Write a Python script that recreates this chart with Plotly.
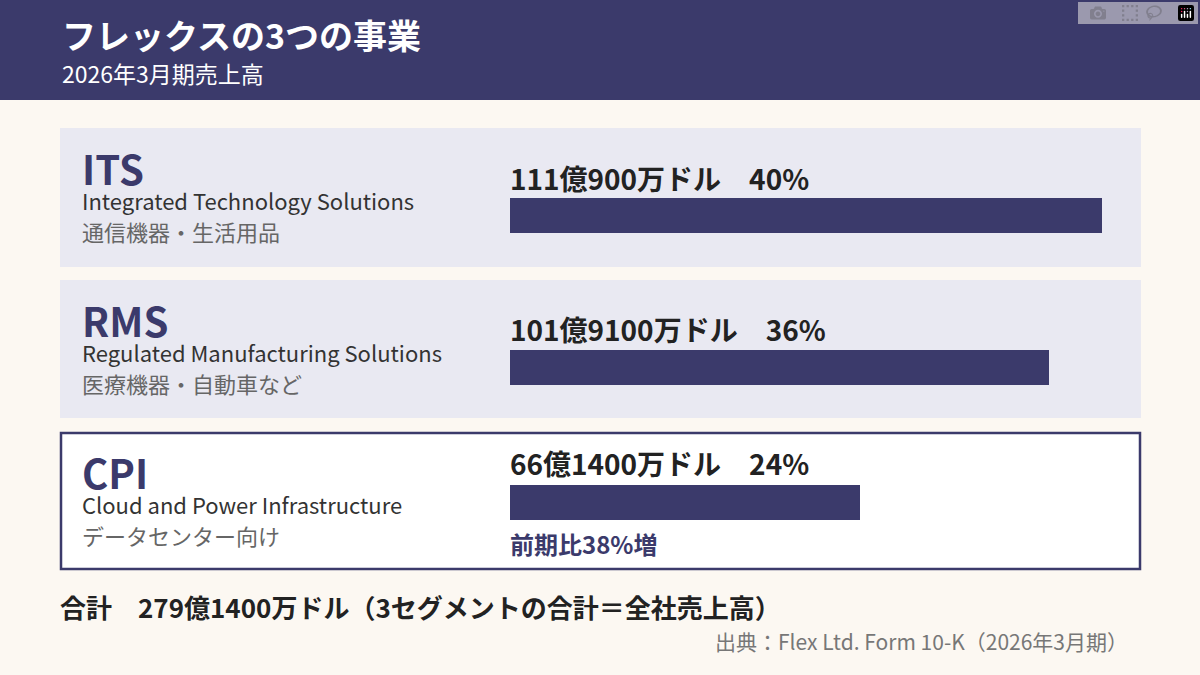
import plotly.graph_objects as go

codes = ["ITS", "RMS", "CPI"]
names_en = ["Integrated Technology Solutions", "Regulated Manufacturing Solutions", "Cloud and Power Infrastructure"]
names_ja = ["通信機器・生活用品", "医療機器・自動車など", "データセンター向け"]
revenue = [111.9, 101.91, 66.14]  # 億ドル
value_labels = ["111億900万ドル　40%", "101億9100万ドル　36%", "66億1400万ドル　24%"]
growth_note = "前期比38%増"
total_note = "合計　279億1400万ドル（3セグメントの合計＝全社売上高）"
source_note = "出典：Flex Ltd. Form 10-K（2026年3月期）"
title = "フレックスの3つの事業"
subtitle = "2026年3月期売上高"

W, H = 1200, 675
NAVY = "#3b3a6b"
FONT = "Noto Sans CJK JP"
bar_y = [215.5, 367.5, 502]
panel_y = [(128, 267), (280, 418), (432, 570)]
label_y = [178, 329, 463]

fig = go.Figure()
R = 120
x0 = 510 / W
x1 = (510 + R * 5.29) / W
fig.add_trace(go.Bar(x=revenue, y=bar_y, orientation="h", width=35,
                     marker=dict(color=NAVY, line=dict(width=0)), hoverinfo="skip"))

shapes = [dict(type="rect", xref="paper", yref="paper", x0=0, x1=1, y0=1 - 100 / H, y1=1,
               fillcolor=NAVY, line=dict(width=0), layer="below")]
for i, (a, b) in enumerate(panel_y):
    if i < 2:
        shapes.append(dict(type="rect", xref="paper", yref="paper", x0=60 / W, x1=1141 / W,
                           y0=1 - b / H, y1=1 - a / H, fillcolor="#e9e9f2", line=dict(width=0), layer="below"))
    else:
        shapes.append(dict(type="rect", xref="paper", yref="paper", x0=61 / W, x1=1140 / W,
                           y0=1 - (b - 1) / H, y1=1 - (a + 1) / H, fillcolor="white",
                           line=dict(width=2.5, color=NAVY), layer="below"))

ann = []
def t(x, y, s, size, color, bold=False, anchor="left"):
    ann.append(dict(xref="paper", yref="paper", x=x / W, y=1 - y / H, text=f"<b>{s}</b>" if bold else s,
                    showarrow=False, xanchor=anchor, yanchor="middle",
                    font=dict(family=FONT, size=size, color=color)))

t(60, 34, title, 34, "white", True)
t(60, 73, subtitle, 23, "white")
for i in range(3):
    top = panel_y[i][0]
    t(80, top + 40, codes[i], 40, NAVY, True)
    t(80, top + 72, names_en[i], 22, "#333333")
    t(80, top + 103, names_ja[i], 22, "#666666")
    t(508, label_y[i], value_labels[i], 28, "#222222", True)
t(508, 543, growth_note, 24, NAVY, True)
t(58, 606, total_note, 26, "#222222", True)
t(1130, 641, source_note, 21, "#777777", anchor="right")

fig.update_layout(
    width=W, height=H, margin=dict(l=0, r=0, t=0, b=0),
    paper_bgcolor="#fcf8f2", plot_bgcolor="rgba(0,0,0,0)", showlegend=False,
    xaxis=dict(domain=[x0, x1], range=[0, R], visible=False, fixedrange=True),
    yaxis=dict(domain=[0, 1], range=[H, 0], visible=False, fixedrange=True),
    shapes=shapes, annotations=ann, bargap=0,
)
fig.write_html("out.html", post_script="document.body.style.margin='0';document.body.style.padding='0';")
